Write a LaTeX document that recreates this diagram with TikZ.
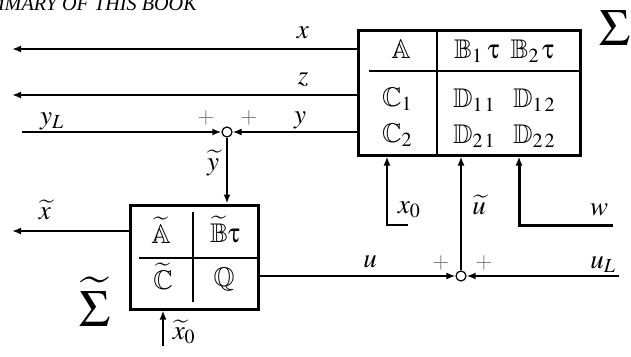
\documentclass[tikz,border=0pt]{standalone}
\usepackage{mathptmx}
\usepackage{amssymb}
\usepackage[Symbol]{upgreek}
\usepackage{fontspec}
\setmainfont{Liberation Serif}
\usetikzlibrary{arrows.meta}
\newcommand\sbx[1]{\hbox{\fontsize{20}{20}\selectfont$#1$}}
\begin{document}
\begin{tikzpicture}[x=1pt,y=-1pt,
  lbl/.style={font=\fontsize{27}{30}\selectfont, inner sep=0pt},
  ln/.style={line width=2pt},
  arr/.style={ln,-{Latex[length=9pt,width=7pt]}},
  thickarr/.style={line width=3pt,-{Latex[length=9pt,width=7pt]}},
  bigbox/.style={draw,line width=3pt,rectangle,inner sep=0pt},
  divider/.style={line width=1.6pt},
  sumc/.style={draw,circle,fill=white,line width=1.2pt,minimum size=10pt,inner sep=0pt},
  plus/.style={text=black!55,font=\fontsize{22}{22}\selectfont,inner sep=0pt},
  bigsig/.style={font=\fontsize{52}{52}\selectfont,inner sep=0pt}]
\useasboundingbox (0,0) rectangle (631,356);
\node[anchor=base east, inner sep=0pt] (title) at (197,10) {\fontsize{20.2}{21}\selectfont\itshape SUMMARY OF THIS BOOK};
% main box
\node[bigbox, minimum width=222pt, minimum height=125pt] (S) at (469,92.5) {};
\draw[divider] (437,30) -- (437,155);
\draw[divider] (369,71) -- (580,71);
\node[lbl] (sA) at (401,49) {$\mathbb{A}$};
\node[lbl] (sB) at (504,51) {$\mathbb{B}_{\sbx{1}}\hspace{5pt}\uptau\hspace{11pt}\mathbb{B}_{\sbx{2}}\hspace{3pt}\uptau$};
\node[lbl] (sC1) at (397,99) {$\mathbb{C}_{\sbx{1}}$};
\node[lbl] (sC2) at (397,135) {$\mathbb{C}_{\sbx{2}}$};
\node[lbl] (sD1) at (504,100) {$\mathbb{D}_{\sbx{1\kern2pt1}}\hspace{18pt}\mathbb{D}_{\sbx{1\kern2pt2}}$};
\node[lbl] (sD2) at (504,136) {$\mathbb{D}_{\sbx{2\kern2pt1}}\hspace{18pt}\mathbb{D}_{\sbx{2\kern2pt2}}$};
\node[bigsig] (sig) at (615,28) {$\Sigma$};
% small box
\node[bigbox, minimum width=128pt, minimum height=104pt] (T) at (194,257) {};
\draw[divider] (193,212) -- (193,302);
\draw[divider] (139,258) -- (258,258);
\node[lbl] (tA) at (161,230) {$\widetilde{\mathbb{A}}$};
\node[lbl] (tB) at (225,230) {$\widetilde{\mathbb{B}}\uptau$};
\node[lbl] (tC) at (163,276) {$\widetilde{\mathbb{C}}$};
\node[lbl] (tQ) at (224,279) {$\mathbb{Q}$};
\node[bigsig] (tsig) at (95,302) {$\widetilde{\Sigma}$};
% summation points
\node[sumc] (c1) at (227,132) {};
\node[sumc] (c2) at (461,276) {};
% free ends
\coordinate (xe) at (12,49);
\coordinate (ze) at (12,95);
\coordinate (yl) at (22,132);
\coordinate (xte) at (12,231);
\coordinate (xt0) at (163,346);
\coordinate (ul) at (619,276);
\coordinate (x0e) at (408,225);
\coordinate (x0c) at (387,225);
\coordinate (we) at (613,225);
\coordinate (wc) at (519,225);
% connectors
\draw[arr] (S.west |- xe) -- (xe);
\draw[arr] (S.west |- ze) -- (ze);
\draw[arr] (S.west |- c1) -- (c1);
\draw[arr] (yl) -- (c1);
\draw[arr] (c1) -- (c1 |- T.north);
\draw[arr] (T.west |- xte) -- (xte);
\draw[arr] (xt0) -- (xt0 |- T.south);
\draw[arr] (T.east |- c2) -- (c2);
\draw[arr] (ul) -- (c2);
\draw[arr] (c2) -- (c2 |- S.south);
\draw[arr] (x0e) -- (x0c) -- (x0c |- S.south);
\draw[thickarr] (we) -- (wc) -- (wc |- S.south);
% labels
\node[lbl] (lx) at (303,33) {$x$};
\node[lbl] (lz) at (303,80) {$z$};
\node[lbl] (ly) at (300,120) {$y$};
\node[lbl] (lyl) at (52,121) {$y_{\sbx{L}}$};
\node[plus] (p1) at (206,118) {$+$};
\node[plus] (p2) at (249,118) {$+$};
\node[lbl] (lyt) at (213,163) {$\widetilde{y}$};
\node[lbl] (lxt) at (45,210) {$\widetilde{x}$};
\node[lbl] (lxt0) at (184,332) {$\widetilde{x}_{\sbx{0}}$};
\node[lbl] (lx0) at (409,210) {$x_{\sbx{0}}$};
\node[lbl] (lut) at (479,205) {$\widetilde{u}$};
\node[lbl] (lw) at (599,210) {$w$};
\node[lbl] (lu) at (370,262) {$u$};
\node[plus] (p3) at (441,263) {$+$};
\node[plus] (p4) at (484,263) {$+$};
\node[lbl] (lul) at (603,265) {$u_{\sbx{L}}$};
\end{tikzpicture}
\end{document}
